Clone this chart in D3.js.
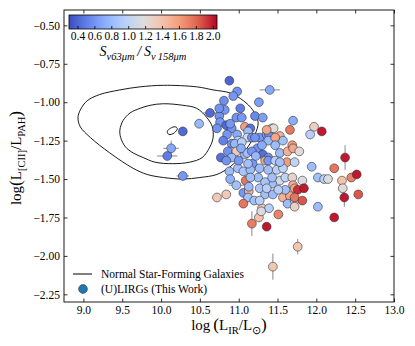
<!DOCTYPE html>
<html><head><meta charset="utf-8">
<script src="https://cdn.jsdelivr.net/npm/d3@7"></script>
<style>
body{margin:0;background:#fff}
svg{display:block}
text{font-family:"Liberation Serif","Times New Roman",serif;fill:#000}
</style>
</head><body>
<svg id="c" width="415" height="346"></svg>
<script>
// ---------- data ----------
const lirVals = [10.88,10.98,10.93,11.40,10.81,11.26,11.02,10.82,10.63,10.75,10.97,11.04,11.21,11.31,10.49,10.76,10.84,10.28,10.72,10.91,
11.08,11.15,10.98,10.99,11.12,11.11,10.91,10.85,10.80,10.95,11.04,11.17,11.27,11.36,11.39,11.43,11.45,11.36,11.66,11.70,
11.97,12.07,11.92,11.53,11.57,11.21,11.38,11.47,11.69,10.13,10.08,10.28,10.77,10.86,10.97,10.91,10.84,11.08,11.11,11.24,
11.17,11.31,11.38,11.34,11.38,11.53,11.63,11.70,11.78,11.62,11.72,11.18,11.27,11.38,11.49,11.57,10.88,10.99,11.06,11.15,
11.09,10.97,11.06,11.13,11.12,11.13,10.72,10.84,11.06,11.27,11.34,11.44,11.53,11.43,11.25,11.34,11.43,11.36,11.60,11.69,
11.82,11.70,11.72,11.76,11.84,11.57,11.66,11.63,11.72,11.72,11.82,11.72,11.94,12.02,12.10,12.15,12.23,12.37,12.33,12.45,
12.52,12.34,12.36,12.54,12.23,12.02,11.30,11.39,11.26,11.29,11.51,11.17,11.36,11.76,11.44,11.03,11.30,11.47,11.12,11.00,
11.22,11.47,11.53,11.60,11.51,11.20,11.27,10.89,11.15,10.75,10.89];
const ciiPahVals = [-0.86,-0.93,-0.96,-0.92,-0.99,-1.00,-1.04,-1.05,-1.07,-1.09,-1.10,-1.10,-1.09,-1.10,-1.14,-1.13,-1.15,-1.19,-1.17,-1.17,
-1.16,-1.17,-1.21,-1.25,-1.19,-1.23,-1.27,-1.21,-1.25,-1.27,-1.26,-1.23,-1.23,-1.21,-1.21,-1.17,-1.17,-1.18,-1.18,-1.12,
-1.16,-1.19,-1.21,-1.22,-1.25,-1.23,-1.25,-1.23,-1.28,-1.30,-1.35,-1.48,-1.36,-1.32,-1.32,-1.36,-1.38,-1.34,-1.33,-1.30,
-1.32,-1.34,-1.36,-1.38,-1.38,-1.33,-1.32,-1.30,-1.32,-1.39,-1.39,-1.40,-1.43,-1.44,-1.44,-1.43,-1.45,-1.43,-1.45,-1.44,
-1.51,-1.54,-1.59,-1.58,-1.62,-1.55,-1.62,-1.60,-1.66,-1.56,-1.60,-1.60,-1.51,-1.53,-1.49,-1.52,-1.49,-1.56,-1.49,-1.49,
-1.51,-1.54,-1.56,-1.57,-1.56,-1.62,-1.61,-1.66,-1.64,-1.62,-1.64,-1.68,-1.42,-1.49,-1.50,-1.50,-1.43,-1.36,-1.51,-1.49,
-1.47,-1.56,-1.62,-1.60,-1.75,-1.68,-1.69,-1.69,-1.75,-1.71,-1.73,-1.79,-1.81,-1.94,-2.07,-1.30,-1.28,-1.28,-1.40,-1.38,
-1.35,-1.38,-1.39,-1.57,-1.57,-1.64,-1.64,-1.50,-1.49,-1.04,-1.14];
const ratioVals = [0.40,0.60,0.62,0.70,0.58,0.65,0.50,0.62,0.42,0.60,0.60,0.62,0.55,0.65,0.80,0.62,0.42,0.42,0.60,0.60,
1.60,0.45,0.72,0.95,0.82,1.10,0.60,0.62,0.52,0.80,0.95,0.60,0.62,0.65,0.58,0.95,1.20,1.55,1.75,0.72,
1.30,2.00,0.95,1.50,0.85,0.60,0.80,1.55,1.60,0.70,0.50,0.62,0.45,0.60,1.35,0.80,0.60,0.82,0.85,0.60,
0.62,0.45,0.58,1.55,0.62,0.82,1.50,1.55,1.20,1.60,1.00,0.62,0.82,0.85,0.95,1.00,0.82,0.85,0.88,0.82,
1.75,0.85,0.62,1.50,0.85,0.82,1.35,1.35,1.75,0.88,0.85,0.82,1.10,0.85,0.82,0.88,0.85,0.95,1.00,1.25,
1.15,1.50,1.55,1.95,2.00,1.50,1.55,0.82,0.85,1.75,1.85,1.30,0.82,0.85,0.95,1.15,1.75,2.00,1.40,1.70,
2.00,1.20,2.00,1.85,2.00,0.82,1.35,0.95,1.40,1.15,1.70,1.72,2.00,1.38,1.38,0.72,0.72,0.82,0.85,0.62,
0.80,0.95,0.85,0.85,0.95,0.85,0.95,0.75,0.85,0.60,0.62];
const xErrVals = lirVals.map(() => 0);
const yErrVals = lirVals.map(() => 0);
// error bars (index, value)
const xErrList = [[3,0.13],[8,0.10],[17,0.05],[49,0.10],[50,0.13],[51,0.08],[81,0.10]];
const yErrList = [[49,0.05],[117,0.08],[122,0.06],[131,0.08],[133,0.05],[134,0.085]];
xErrList.forEach(([i,v]) => xErrVals[i] = v);
yErrList.forEach(([i,v]) => yErrVals[i] = v);

const outerContour = [[8.93,-1.10],[8.96,-1.05],[9.05,-0.99],[9.21,-0.95],[9.47,-0.92],[9.73,-0.90],[10.03,-0.89],[10.46,-0.90],
[10.67,-0.92],[10.89,-0.94],[11.06,-0.99],[11.18,-1.05],[11.25,-1.13],[11.21,-1.21],[11.12,-1.29],[11.02,-1.36],[10.89,-1.42],
[10.72,-1.47],[10.50,-1.49],[10.28,-1.50],[10.03,-1.49],[9.82,-1.47],[9.64,-1.43],[9.34,-1.33],[9.09,-1.23],[8.96,-1.16]];
const innerContour = [[9.47,-1.18],[9.51,-1.12],[9.60,-1.07],[9.73,-1.04],[9.86,-1.02],[10.03,-1.01],[10.28,-1.02],[10.46,-1.04],
[10.59,-1.10],[10.66,-1.16],[10.67,-1.23],[10.63,-1.29],[10.53,-1.36],[10.37,-1.39],[10.15,-1.40],[9.92,-1.39],[9.77,-1.36],
[9.64,-1.33],[9.54,-1.29],[9.48,-1.23]];
const coreContour = [[10.08,-1.19],[10.12,-1.17],[10.18,-1.16],[10.21,-1.17],[10.17,-1.20],[10.10,-1.21]];

const xTicks = [9.0,9.5,10.0,10.5,11.0,11.5,12.0,12.5,13.0];
const yTicks = [-0.50,-0.75,-1.00,-1.25,-1.50,-1.75,-2.00,-2.25];
const cbTicks = [0.4,0.6,0.8,1.0,1.2,1.4,1.6,1.8,2.0];
const legendLabels = ["Normal Star-Forming Galaxies","(U)LIRGs (This Work)"];

// ---------- scales ----------
const svg = d3.select("#c");
const L = 64, R = 394, T = 10, B = 302;
const x = d3.scaleLinear().domain([8.75, 13.0]).range([L, R]);
const y = d3.scaleLinear().domain([-2.30, -0.40]).range([B, T]);

const cwStops = ["#3b4cc0","#6282ea","#8db0fe","#b8d0f9","#dddddd","#f5c4ad","#f49a7b","#de604d","#b40426"];
const cw = d3.scaleLinear().domain(d3.range(9).map(i => i/8)).range(cwStops).interpolate(d3.interpolateRgb);
const cNorm = d3.scaleLinear().domain([0.3, 2.05]).range([0,1]).clamp(true);
const color = v => cw(cNorm(v));

// ---------- contours ----------
const line = d3.line().x(d => x(d[0])).y(d => y(d[1])).curve(d3.curveCatmullRomClosed.alpha(0.5));
[outerContour, innerContour, coreContour].forEach(c => {
  svg.append("path").attr("d", line(c)).attr("fill","none").attr("stroke","#000").attr("stroke-width",0.9);
});

// ---------- error bars ----------
const eb = svg.append("g").attr("stroke","#888").attr("stroke-width",1);
lirVals.forEach((lx,i) => {
  const ly = ciiPahVals[i];
  if (xErrVals[i] > 0) eb.append("line").attr("x1",x(lx-xErrVals[i])).attr("x2",x(lx+xErrVals[i])).attr("y1",y(ly)).attr("y2",y(ly));
  if (yErrVals[i] > 0) eb.append("line").attr("x1",x(lx)).attr("x2",x(lx)).attr("y1",y(ly-yErrVals[i])).attr("y2",y(ly+yErrVals[i]));
});

// ---------- points ----------
svg.append("g").selectAll("circle").data(lirVals.map((v,i)=>i)).join("circle")
  .attr("cx", i => x(lirVals[i])).attr("cy", i => y(ciiPahVals[i])).attr("r", 4.4)
  .attr("fill", i => color(ratioVals[i])).attr("stroke","#333").attr("stroke-width",0.6);

// ---------- axes ----------
const fmtX = d3.format(".1f"), fmtY = d3.format(".2f");
const ax = svg.append("g").attr("transform",`translate(0,${B})`).call(d3.axisBottom(x).tickValues(xTicks).tickSize(-3.5).tickPadding(4).tickFormat(fmtX));
const ay = svg.append("g").attr("transform",`translate(${L},0)`).call(d3.axisLeft(y).tickValues(yTicks).tickSize(-3.5).tickPadding(4).tickFormat(fmtY));
const at = svg.append("g").attr("transform",`translate(0,${T})`).call(d3.axisTop(x).tickValues(xTicks).tickSize(-3.5).tickFormat(""));
const ar = svg.append("g").attr("transform",`translate(${R},0)`).call(d3.axisRight(y).tickValues(yTicks).tickSize(-3.5).tickFormat(""));
[ax,ay,at,ar].forEach(g => {
  g.select(".domain").remove();
  g.selectAll("text").attr("font-family","Liberation Serif, serif").attr("font-size",11.5).attr("fill","#000");
  g.selectAll("line").attr("stroke","#000").attr("stroke-width",0.8);
});
svg.append("rect").attr("x",L).attr("y",T).attr("width",R-L).attr("height",B-T).attr("fill","none").attr("stroke","#000").attr("stroke-width",0.9);

// ---------- rich text helper ----------
function rich(sel, parts, size, subRatio) {
  const sr = subRatio || 0.7;
  let shift = 0;
  parts.forEach(p => {
    const target = p.sub ? size*0.28 : 0;
    const t = sel.append("tspan").text(p.t).attr("dy", target - shift).attr("font-size", p.sub ? size*sr : (p.big ? size*1.15 : size));
    if (p.it) t.attr("font-style","italic");
    shift = target;
  });
}

// x label
const xl = svg.append("text").attr("x", 229).attr("y", 330).attr("text-anchor","middle");
rich(xl, [{t:"log\u2009"},{t:"(",big:true},{t:"L"},{t:"IR",sub:true},{t:"/L"},{t:"\u2299",sub:true},{t:")",big:true}], 15);
// y label
const yl = svg.append("text").attr("transform","translate(21,158) rotate(-90)").attr("text-anchor","middle");
rich(yl, [{t:"log"},{t:"(",big:true},{t:"L"},{t:"[CII]",sub:true},{t:"/L"},{t:"PAH",sub:true},{t:")",big:true}], 15);

// ---------- colorbar ----------
const cbX0 = 69, cbX1 = 217, cbY0 = 15, cbY1 = 29;
const cbScale = d3.scaleLinear().domain([0.3, 2.05]).range([cbX0, cbX1]);
const grad = svg.append("defs").append("linearGradient").attr("id","cbg").attr("x1","0%").attr("x2","100%");
d3.range(0, 1.0001, 0.05).forEach(t => grad.append("stop").attr("offset", (t*100)+"%").attr("stop-color", cw(t)));
svg.append("rect").attr("x",cbX0).attr("y",cbY0).attr("width",cbX1-cbX0).attr("height",cbY1-cbY0).attr("fill","url(#cbg)").attr("stroke","#000").attr("stroke-width",0.8);
const cba = svg.append("g").attr("transform",`translate(0,${cbY1})`).call(d3.axisBottom(cbScale).tickValues(cbTicks).tickSize(-3).tickPadding(3).tickFormat(d3.format(".1f")));
cba.select(".domain").remove();
cba.selectAll("text").attr("font-family","Liberation Serif, serif").attr("font-size",11.5).attr("fill","#000");
cba.selectAll("line").attr("stroke","#000").attr("stroke-width",0.8);
const cbl = svg.append("text").attr("x",143).attr("y",56).attr("text-anchor","middle");
rich(cbl, [{t:"S",it:true},{t:"\u03bd63\u03bcm",sub:true,it:true},{t:"\u2009/\u2009",it:true},{t:"S",it:true},{t:"\u03bd\u2009158\u03bcm",sub:true,it:true}], 14, 0.75);

// ---------- legend ----------
svg.append("line").attr("x1",73).attr("x2",92).attr("y1",274).attr("y2",274).attr("stroke","#000").attr("stroke-width",1);
svg.append("circle").attr("cx",83).attr("cy",289).attr("r",4.4).attr("fill","#1f77b4").attr("stroke","#333").attr("stroke-width",0.6);
svg.append("text").attr("x",101).attr("y",278).attr("font-size",11.5).text(legendLabels[0]);
svg.append("text").attr("x",101).attr("y",293).attr("font-size",11.5).text(legendLabels[1]);
</script>
</body></html>
